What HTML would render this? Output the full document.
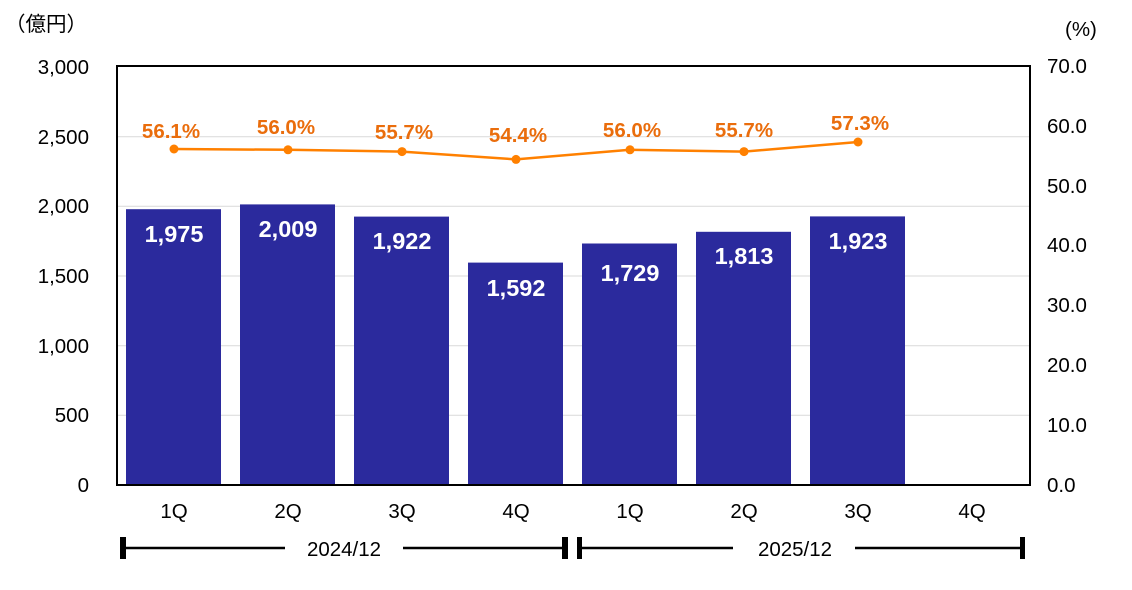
<!DOCTYPE html><html><head><meta charset="utf-8"><style>body{margin:0;background:#fff}svg{display:block}text{font-family:"Liberation Sans","Noto Sans CJK JP",sans-serif}</style></head><body>
<svg width="1132" height="590" viewBox="0 0 1132 590">
<g stroke="#d9d9d9" stroke-width="1">
<line x1="117" x2="1030" y1="415.3" y2="415.3"/><line x1="117" x2="1030" y1="345.7" y2="345.7"/><line x1="117" x2="1030" y1="276" y2="276"/><line x1="117" x2="1030" y1="206.3" y2="206.3"/><line x1="117" x2="1030" y1="136.7" y2="136.7"/>
</g>
<g fill="#2b2a9d">
<rect x="126" y="209.2" width="95" height="275.8"/>
<rect x="240" y="204.4" width="95" height="280.6"/>
<rect x="354" y="216.6" width="95" height="268.4"/>
<rect x="468" y="262.6" width="95" height="222.4"/>
<rect x="582" y="243.5" width="95" height="241.5"/>
<rect x="696" y="231.8" width="95" height="253.2"/>
<rect x="810" y="216.4" width="95" height="268.6"/>
</g>
<rect x="117" y="66" width="913" height="419" fill="none" stroke="#000" stroke-width="2"/>
<g fill="#fff" font-size="23.5" font-weight="bold" text-anchor="middle">
<text x="174" y="242">1,975</text><text x="288" y="237">2,009</text><text x="402" y="249">1,922</text><text x="516" y="296">1,592</text><text x="630" y="281">1,729</text><text x="744" y="264">1,813</text><text x="858" y="249">1,923</text>
</g>
<polyline fill="none" stroke="#ff8000" stroke-width="2.5" points="174,149 288,149.8 402,151.6 516,159.4 630,149.8 744,151.6 858,142"/>
<g fill="#ff8000"><circle cx="174" cy="149" r="4.5"/><circle cx="288" cy="149.8" r="4.5"/><circle cx="402" cy="151.6" r="4.5"/><circle cx="516" cy="159.4" r="4.5"/><circle cx="630" cy="149.8" r="4.5"/><circle cx="744" cy="151.6" r="4.5"/><circle cx="858" cy="142" r="4.5"/></g>
<g fill="#ea6d0c" font-size="20.5" font-weight="bold" text-anchor="middle">
<text x="171" y="138">56.1%</text><text x="286" y="134">56.0%</text><text x="404" y="139">55.7%</text><text x="518" y="142">54.4%</text><text x="632" y="137">56.0%</text><text x="744" y="137">55.7%</text><text x="860" y="130">57.3%</text>
</g>
<g font-size="20.5" fill="#000" text-anchor="end">
<text x="89" y="492">0</text><text x="89" y="422">500</text><text x="89" y="353">1,000</text><text x="89" y="283">1,500</text><text x="89" y="213">2,000</text><text x="89" y="144">2,500</text><text x="89" y="74">3,000</text>
</g>
<g font-size="20.5" fill="#000" text-anchor="start">
<text x="1047" y="492">0.0</text><text x="1047" y="432">10.0</text><text x="1047" y="372">20.0</text><text x="1047" y="312">30.0</text><text x="1047" y="252">40.0</text><text x="1047" y="193">50.0</text><text x="1047" y="133">60.0</text><text x="1047" y="73">70.0</text>
</g>
<text x="5" y="31" font-size="20.5">（億円）</text>
<text x="1065" y="36" font-size="20.5">(%)</text>
<g font-size="20.5" text-anchor="middle">
<text x="174" y="518">1Q</text><text x="288" y="518">2Q</text><text x="402" y="518">3Q</text><text x="516" y="518">4Q</text><text x="630" y="518">1Q</text><text x="744" y="518">2Q</text><text x="858" y="518">3Q</text><text x="972" y="518">4Q</text>
<text x="344" y="556">2024/12</text><text x="795" y="556">2025/12</text>
</g>
<g stroke="#000" stroke-width="2.5"><line x1="125" x2="285" y1="548" y2="548"/><line x1="403" x2="563" y1="548" y2="548"/><line x1="580" x2="733" y1="548" y2="548"/><line x1="855" x2="1022" y1="548" y2="548"/></g>
<g fill="#000"><rect x="120" y="537" width="6" height="22"/><rect x="562" y="537" width="6" height="22"/><rect x="577" y="537" width="5" height="22"/><rect x="1020" y="537" width="5" height="22"/></g>
</svg></body></html>
